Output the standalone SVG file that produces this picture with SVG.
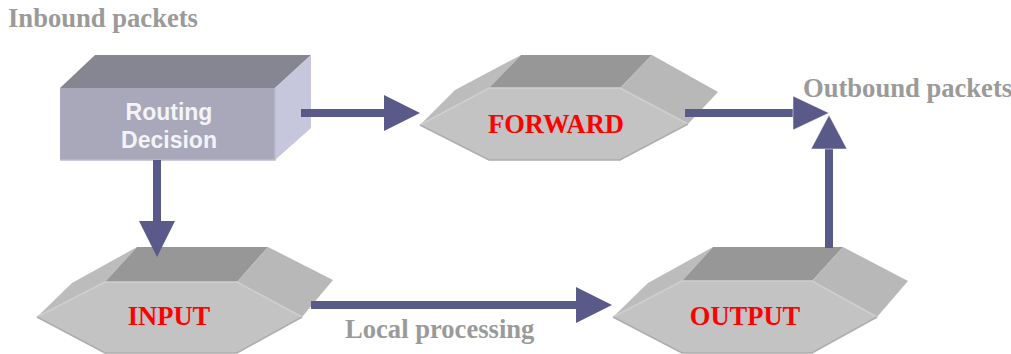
<svg xmlns="http://www.w3.org/2000/svg" width="1011" height="354" viewBox="0 0 1011 354">
<style>
.lbl{font-family:"Liberation Serif","Times New Roman",serif;font-weight:bold;font-size:26.6px;fill:#9a9a9a}
.hx{font-family:"Liberation Serif","Times New Roman",serif;font-weight:bold;font-size:26.5px;fill:#ff0000;text-anchor:middle}
.rd{font-family:"Liberation Sans",Arial,sans-serif;font-weight:bold;font-size:23px;fill:#f4f4f8;text-anchor:middle}
.top{fill:#979797}
.front{fill:#c3c3c3}
.lside{fill:#bcbcbc}
.rside{fill:#b8b8b8}
.hl{fill:none;stroke:#cfcfcf;stroke-width:1.5}
.sh{fill:none;stroke:#adadad;stroke-width:1.5}
.arr{fill:#5a5a8a}
</style>
<rect width="1011" height="354" fill="#ffffff"/>
<text class="lbl" x="8" y="27">Inbound packets</text>
<text class="lbl" x="803" y="97">Outbound packets</text>
<text class="lbl" x="345" y="338">Local processing</text>

<g id="routing">
<polygon points="60,88 95,55 311,55 275,88" fill="#868692"/>
<polygon points="275,88 311,55 311,128 275,160" fill="#c6c6dc"/>
<rect x="60" y="88" width="215" height="72" fill="#a8a8ba"/>
<polyline points="60,160 275,160 275,88" fill="none" stroke="#bcbccc" stroke-width="1.5"/>
<text class="rd" x="169" y="120">Routing</text>
<text class="rd" x="169" y="148">Decision</text>
</g>

<g id="forward">
<polygon class="lside" points="420,125 455,90 521,55 489,88"/>
<polygon class="top" points="489,88 521,55 652,55 620,88"/>
<polygon class="rside" points="620,88 652,55 718,92 688,124"/>
<polygon class="front" points="420,125 489,88 620,88 688,124 620,160 489,160"/>
<polyline class="hl" points="420,125 489,88 620,88 688,124"/>
<polyline class="sh" points="420,125 489,160 620,160 688,124"/>
<text class="hx" x="556" y="133">FORWARD</text>
</g>

<g id="input">
<polygon class="lside" points="37,317 72,283 137,247 105,282"/>
<polygon class="top" points="105,282 137,247 268,247 237,282"/>
<polygon class="rside" points="237,282 268,247 333,280 302,317"/>
<polygon class="front" points="37,317 105,282 237,282 302,317 237,353 105,353"/>
<polyline class="hl" points="37,317 105,282 237,282 302,317"/>
<polyline class="sh" points="37,317 105,353 237,353 302,317"/>
<text class="hx" x="169" y="325">INPUT</text>
</g>

<g id="output">
<polygon class="lside" points="613,317 648,283 713,247 682,281"/>
<polygon class="top" points="682,281 713,247 843,247 812,281"/>
<polygon class="rside" points="812,281 843,247 908,281 877,317"/>
<polygon class="front" points="613,317 682,281 812,281 877,317 812,353 682,353"/>
<polyline class="hl" points="613,317 682,281 812,281 877,317"/>
<polyline class="sh" points="613,317 682,353 812,353 877,317"/>
<text class="hx" x="745" y="325">OUTPUT</text>
</g>

<g id="connectors">
<rect class="arr" x="301" y="109" width="84" height="8"/>
<polygon class="arr" points="384,95 420,113 384,131"/>
<rect class="arr" x="153" y="160" width="8" height="62"/>
<polygon class="arr" points="139,221 157,257 175,221"/>
<rect class="arr" x="311" y="301" width="266" height="8"/>
<polygon class="arr" points="576,287 612,305 576,323"/>
<rect class="arr" x="685" y="109" width="109" height="8"/>
<polygon class="arr" points="793,96 829,113 793,130" stroke="#ffffff" stroke-width="0.5"/>
<rect class="arr" x="825" y="148" width="8" height="100"/>
<polygon class="arr" points="811,149 829,115 847,149" stroke="#ffffff" stroke-width="0.5"/>
</g>
</svg>
